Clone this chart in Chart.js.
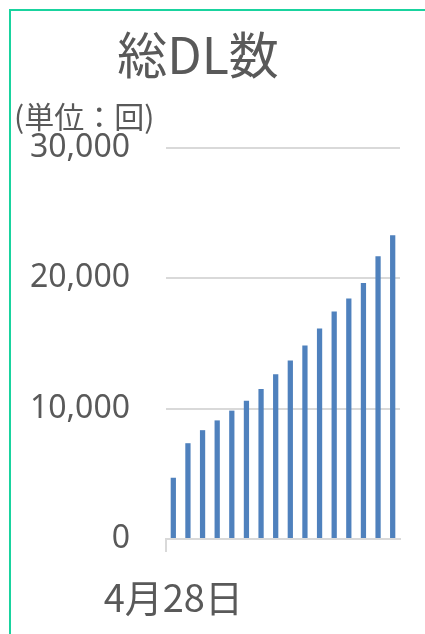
<!DOCTYPE html>
<html lang="ja">
<head>
<meta charset="utf-8">
<title>総DL数</title>
<script src="https://cdn.jsdelivr.net/npm/chart.js@4"></script>
<style>
  html, body { margin: 0; padding: 0; background: #ffffff; overflow: hidden; }
  #frame {
    position: absolute; left: 9px; top: 9px; width: 1000px; height: 1000px;
    border-top: 2px solid #19d39e; border-left: 2px solid #19d39e;
  }
  #wrap { position: absolute; left: 0; top: 0; width: 425px; height: 634px; }
</style>
</head>
<body>
<div id="frame"></div>
<div id="wrap"><canvas id="chart" width="425" height="634"></canvas></div>
<script>
// 日別の累計ダウンロード数
const categories = ['4月28日', '4月29日', '4月30日', '5月1日', '5月2日', '5月3日', '5月4日', '5月5日',
                    '5月6日', '5月7日', '5月8日', '5月9日', '5月10日', '5月11日', '5月12日', '5月13日'];
const downloads = [4700, 7350, 8350, 9100, 9850, 10600, 11500, 12650,
                   13700, 14850, 16150, 17450, 18450, 19650, 21700, 23300];
const yTicks = [0, 10000, 20000, 30000];

const FONT = '"Noto Sans CJK JP", "Noto Sans", sans-serif';
const NUM_FONT = '"Noto Sans", "Noto Sans CJK JP", sans-serif';
const TEXT = '#595959';
const GRID = '#d9d9d9';

// shift the main title box a little to the left of the full layout width
const titleShift = {
  id: 'titleShift',
  afterLayout(chart) {
    const t = chart.titleBlock;
    if (t) { t.left -= 9; t.right -= 9; }
  }
};

new Chart(document.getElementById('chart'), {
  type: 'bar',
  data: {
    labels: categories,
    datasets: [{
      label: '総DL数',
      data: downloads,
      backgroundColor: '#4f81bd',
      borderWidth: 0,
      barPercentage: 0.36,
      categoryPercentage: 1.0
    }]
  },
  plugins: [titleShift],
  options: {
    responsive: false,
    animation: false,
    locale: 'en-US',
    layout: { padding: { left: 14, right: 25, top: 0, bottom: 16 } },
    plugins: {
      legend: { display: false },
      tooltip: { enabled: false },
      title: {
        display: true,
        text: '総DL数',
        color: TEXT,
        font: { family: FONT, size: 50, weight: 'normal', lineHeight: 1.2 },
        padding: { top: 25, bottom: 14 }
      },
      subtitle: {
        display: true,
        text: '(単位：回)',
        align: 'start',
        color: TEXT,
        font: { family: FONT, size: 30, weight: 'normal', lineHeight: 1.2 },
        padding: { top: 0, bottom: 13 }
      }
    },
    scales: {
      x: {
        afterFit: (scale) => { scale.height = 79; },
        grid: {
          offset: true,
          drawOnChartArea: false,
          drawTicks: true,
          tickLength: 13,
          lineWidth: 2,
          color: (ctx) => ctx.index === 0 ? GRID : 'rgba(0,0,0,0)'
        },
        border: { display: true, color: GRID, width: 2 },
        ticks: {
          autoSkip: false,
          maxRotation: 0,
          minRotation: 0,
          padding: 23,
          color: TEXT,
          font: { family: FONT, size: 38, weight: 'normal', lineHeight: 1.2 },
          callback: function (value, index) { return index === 0 ? this.getLabelForValue(value) : ''; }
        }
      },
      y: {
        min: yTicks[0],
        max: yTicks[yTicks.length - 1],
        afterBuildTicks: (scale) => { scale.ticks = yTicks.map(v => ({ value: v })); },
        afterFit: (scale) => { scale.width = 152; },
        grid: { color: GRID, lineWidth: 2, drawTicks: false },
        border: { display: false },
        ticks: {
          padding: 36,
          color: TEXT,
          font: { family: NUM_FONT, size: 32, weight: 'normal', lineHeight: 1.2 }
        }
      }
    }
  }
});
</script>
</body>
</html>
